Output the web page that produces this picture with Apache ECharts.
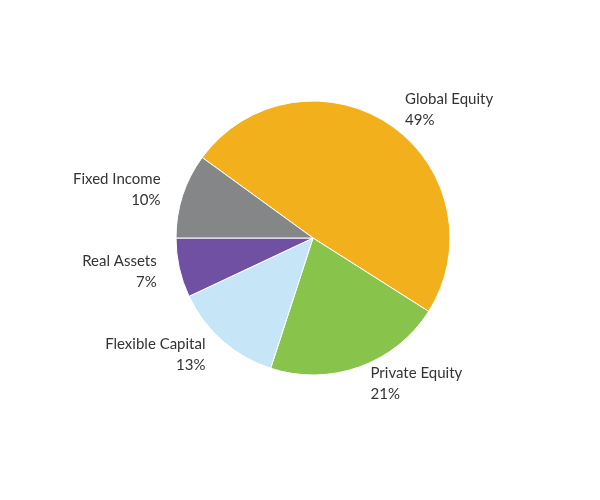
<!DOCTYPE html>
<html><head><meta charset="utf-8">
<script src="https://cdn.jsdelivr.net/npm/echarts@6/dist/echarts.min.js"></script>
<style>html,body{margin:0;padding:0;background:#fff}#c{width:600px;height:500px}</style>
</head><body><div id="c"></div>
<script>
const categories = ['Global Equity','Private Equity','Flexible Capital','Real Assets','Fixed Income'];
const values = [49,21,13,7,10];
const colors = ['#F2B11C','#88C34C','#C6E5F6','#7050A2','#858688'];
const chart = echarts.init(document.getElementById('c'));
chart.setOption({
  animation:false,
  series:[{
    type:'pie',
    center:[313,238],
    radius:137,
    startAngle:144,
    clockwise:true,
    data:categories.map((n,i)=>({name:n,value:values[i],itemStyle:{color:colors[i]}})),
    itemStyle:{borderColor:'#fff',borderWidth:1},
    label:{show:true,position:'outside',formatter:'{b}\n{c}%',align:'center',
      color:'#333',fontSize:15,lineHeight:21,fontFamily:'Lato, sans-serif'},
    labelLine:{show:false,length:18,length2:0}
  }]
});
</script></body></html>
